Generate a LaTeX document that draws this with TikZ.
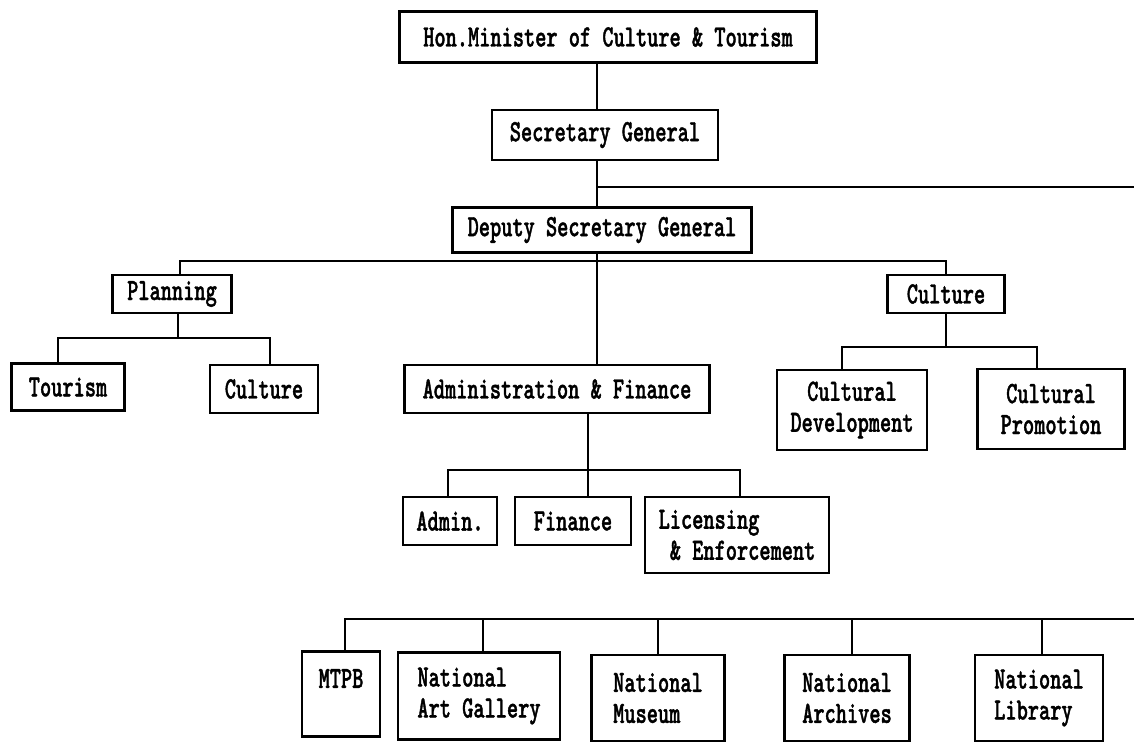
\documentclass[tikz,border=0pt]{standalone}
\usepackage{fontspec}
\newfontfamily\orgfont{lmmonolt10-bold.otf}[FakeStretch=0.688,FakeBold=1.2]
\begin{document}
\begin{tikzpicture}[x=1pt,y=-1pt,
  unit/.style={draw, line width=2.7pt, inner sep=0pt, align=center,
    font=\orgfont\fontsize{31}{31}\selectfont},
  link/.style={line width=2pt}]
\useasboundingbox (0,0) rectangle (1134,742);

% top of the hierarchy
\node[unit, minimum width=417, minimum height=51] (minister) at (608,37) {Hon.Minister of Culture \& Tourism};
\node[unit, minimum width=226, minimum height=50] (sg) at (605,135) {Secretary General};
\node[unit, minimum width=299, minimum height=45] (dsg) at (602,230) {Deputy Secretary General};

% divisions
\node[unit, minimum width=119, minimum height=38] (plan) at (172,294) {Planning};
\node[unit, minimum width=117, minimum height=38] (cult) at (946,294) {Culture};
\node[unit, minimum width=305, minimum height=48] (af) at (557,389) {Administration \& Finance};

% sections
\node[unit, minimum width=113, minimum height=47] (tour) at (68,387) {Tourism};
\node[unit, minimum width=108, minimum height=48] (pcult) at (264,389) {Culture};
\node[unit, minimum width=150, minimum height=80] (cdev) at (852,410) {Cultural\\Development};
\node[unit, minimum width=147, minimum height=80] (cprom) at (1051,409) {Cultural\\Promotion};
\node[unit, minimum width=94, minimum height=48] (adm) at (450,521) {Admin.};
\node[unit, minimum width=116, minimum height=48] (fin) at (573,521) {Finance};
\node[unit, align=left, minimum width=184, minimum height=76] (lic) at (737,535) {Licensing\\\hphantom{x}\& Enforcement};

% agencies
\node[unit, minimum width=78, minimum height=85] (mtpb) at (341,694) {MTPB\\\mbox{}};
\node[unit, align=left, minimum width=162, minimum height=87] (nag) at (479,696) {National\\Art Gallery};
\node[unit, align=left, minimum width=133, minimum height=86] (nmus) at (658,698) {National\\Museum};
\node[unit, align=left, minimum width=125, minimum height=86] (narch) at (847,698) {National\\Archives};
\node[unit, align=left, minimum width=128, minimum height=86] (nlib) at (1039,698) {National\\Library};

% attachment points on the boxes
\coordinate (spine) at (597,0);
\coordinate (planTop) at ([xshift=8]plan.north);
\coordinate (planBot) at ([xshift=6]plan.south);
\coordinate (tourTop) at ([xshift=-10]tour.north);
\coordinate (pcultTop) at ([xshift=6]pcult.north);
\coordinate (cdevTop) at ([xshift=-10]cdev.north);
\coordinate (cpromTop) at ([xshift=-14]cprom.north);
\coordinate (afBot) at ([xshift=31]af.south);
\coordinate (admTop) at ([xshift=-2]adm.north);
\coordinate (finTop) at ([xshift=15]fin.north);
\coordinate (licTop) at ([xshift=3]lic.north);
\coordinate (mtpbTop) at ([xshift=4]mtpb.north);
\coordinate (nagTop) at ([xshift=4]nag.north);
\coordinate (narchTop) at ([xshift=5]narch.north);
\coordinate (nlibTop) at ([xshift=3]nlib.north);

% bus levels and open ends
\coordinate (offR) at (1134,187);
\coordinate (busDiv) at (0,261);
\coordinate (busPlan) at (0,338);
\coordinate (busCult) at (0,347);
\coordinate (busAF) at (0,470);
\coordinate (busAg) at (0,619);
\coordinate (offAg) at (1134,619);

% main spine
\draw[link] (minister.south -| spine) -- (sg.north -| spine);
\draw[link] (sg.south -| spine) -- (dsg.north -| spine);
\draw[link] (spine |- offR) -- (offR);
\draw[link] (dsg.south -| spine) -- (af.north -| spine);

% planning and culture
\draw[link] (planTop) |- (busDiv -| cult.north) -- (cult.north);
\draw[link] (planBot) -- (planBot |- busPlan);
\draw[link] (tourTop) |- (busPlan -| pcultTop) -- (pcultTop);
\draw[link] (cult.south) -- (cult.south |- busCult);
\draw[link] (cdevTop) |- (busCult -| cpromTop) -- (cpromTop);

% administration and finance
\draw[link] (afBot) -- (finTop);
\draw[link] (admTop) |- (busAF -| licTop) -- (licTop);

% agencies
\draw[link] (mtpbTop) |- (offAg);
\draw[link] (nagTop) -- (nagTop |- busAg);
\draw[link] (nmus.north) -- (nmus.north |- busAg);
\draw[link] (narchTop) -- (narchTop |- busAg);
\draw[link] (nlibTop) -- (nlibTop |- busAg);
\end{tikzpicture}
\end{document}
